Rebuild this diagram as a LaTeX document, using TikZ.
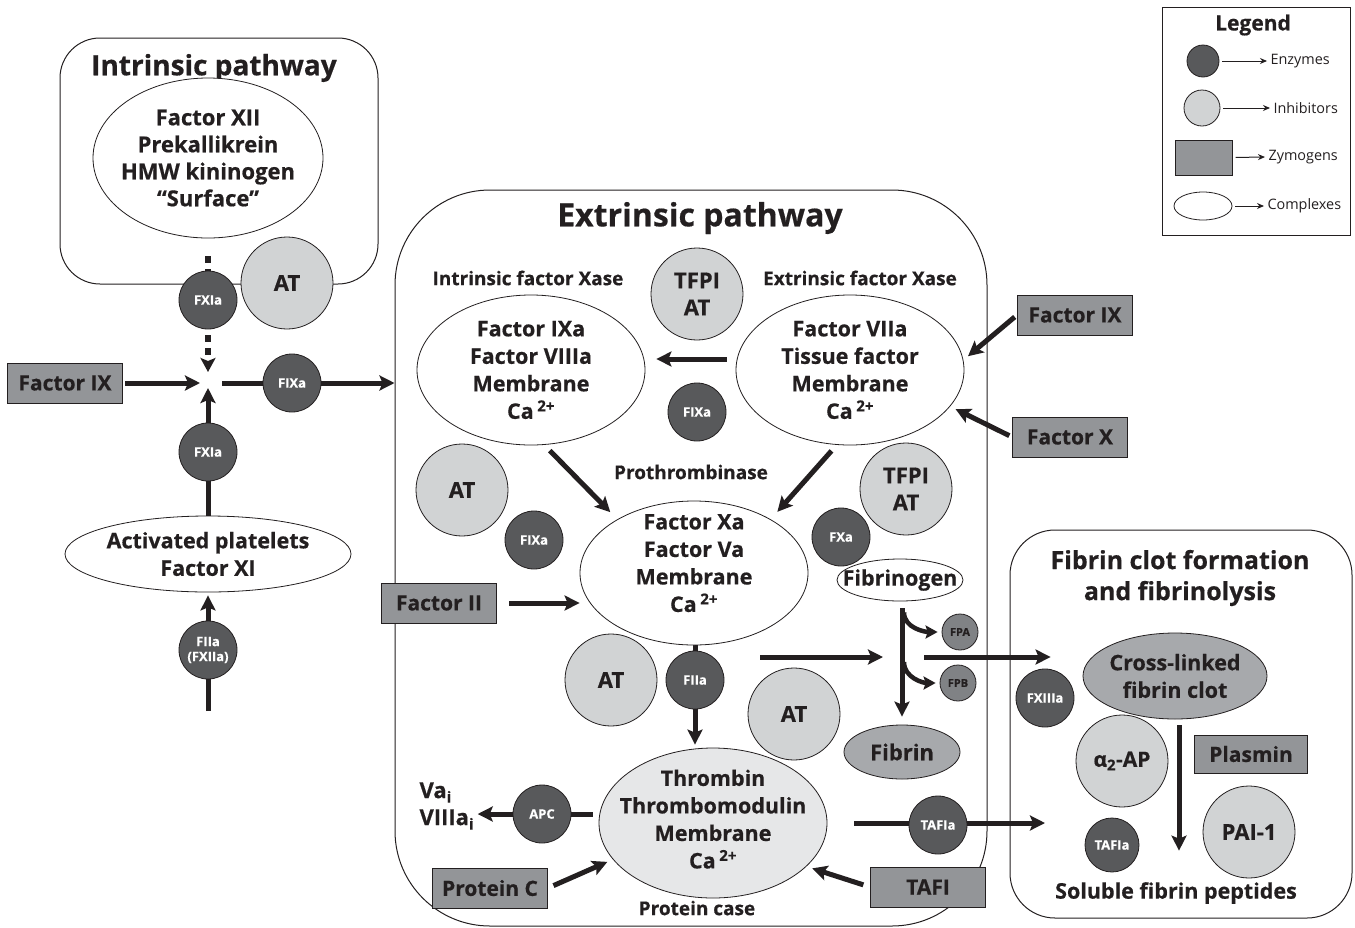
\documentclass[tikz,border=0pt]{standalone}
\usepackage{fontspec}
\setmainfont{Open Sans}[BoldFeatures={FakeBold=0.5}]
\usetikzlibrary{arrows.meta, shapes.geometric, positioning, calc, backgrounds}
\definecolor{ink}{HTML}{231F20}
\definecolor{enzgray}{HTML}{58595B}
\definecolor{inhgray}{HTML}{D1D3D4}
\definecolor{zymgray}{HTML}{939598}
\definecolor{fibgray}{HTML}{A7A9AC}
\definecolor{thrgray}{HTML}{E6E7E8}
\definecolor{fpgray}{HTML}{808285}
\newcommand{\figfs}[2]{\fontsize{#1}{#2}\selectfont\bfseries}
\tikzset{
  enz/.style={circle, draw=ink, line width=0.8pt, fill=enzgray, text=white,
    minimum size=58pt, inner sep=0pt, font=\figfs{13}{15}, align=center},
  inh/.style={circle, draw=ink, line width=0.8pt, fill=inhgray,
    minimum size=92pt, inner sep=0pt, font=\figfs{22}{27}, align=center},
  zym/.style={rectangle, draw=ink, line width=1pt, fill=zymgray,
    minimum width=115pt, minimum height=40pt, inner sep=0pt, font=\figfs{21}{26}},
  cpx/.style={ellipse, draw=ink, line width=0.8pt, fill=white,
    inner sep=-15pt, font=\figfs{21.5}{27.5}, align=center},
  fpep/.style={enz, fill=fpgray, text=ink, minimum size=36pt, font=\figfs{11}{13}},
  pbox/.style={rectangle, draw=ink, line width=1pt, rounded corners=#1},
  sublbl/.style={font=\figfs{19}{22}},
  arr/.style={draw=ink, line width=5pt, -{Stealth[length=15pt, width=15pt, inset=3pt]}},
  carr/.style={draw=ink, line width=4.5pt, -{Stealth[length=12pt, width=13pt, inset=2pt]}},
  dotln/.style={draw=ink, line width=6pt, dash pattern=on 7pt off 6pt},
  dotarr/.style={dotln, -{Stealth[length=14pt, width=15pt, inset=3pt]}},
  legarr/.style={draw=ink, line width=1pt, -{Stealth[length=7pt, width=6pt]}},
  legtxt/.style={anchor=west, font=\fontsize{14.4}{16}\selectfont},
}
\begin{document}
\begin{tikzpicture}[x=1pt, y=-1pt, every node/.style={text=ink}]
  \useasboundingbox (0,0) rectangle (1355,927);

  % -- section frames --
  \node[pbox=40pt, minimum width=318pt, minimum height=246pt] (intbox) at (219,161) {};
  \node[pbox=95pt, minimum width=592pt, minimum height=736pt] (extbox) at (691,558) {};
  \node[pbox=45pt, minimum width=342pt, minimum height=388pt] (clotbox) at (1181,724) {};
  \node[draw=ink, line width=1pt, minimum width=188pt, minimum height=228pt] (legbox) at (1256.5,121) {};

  \node[font=\figfs{28}{32}] (intttl) at (214,68) {Intrinsic pathway};
  \node[font=\figfs{32}{38}] (extttl) at (700,218) {Extrinsic pathway};
  \node[font=\figfs{25}{31}, align=center] (clotttl) at (1180,578) {Fibrin clot formation\\and fibrinolysis};
  \node[font=\figfs{21}{24}] (legttl) at (1253,25) {Legend};

  % -- intrinsic pathway --
  \node[cpx, minimum width=230pt, minimum height=160pt, font=\figfs{22}{27}] (contact) at (208,158)
       {Factor XII\\Prekallikrein\\HMW kininogen\\“Surface”};
  \node[inh] (atI) at (287,283) {AT};
  \node[enz] (fxiaU) at (208,300) {FXIa};
  \coordinate (cross) at (208,383);
  \node[zym] (fixL) at (65,383) {Factor IX};
  \node[enz] (fixaI) at (292,383) {FIXa};
  \node[enz] (fxiaD) at (208,452) {FXIa};
  \node[cpx, minimum width=286pt, minimum height=76pt] (plat) at (208,554)
       {Activated platelets\\Factor XI};
  \node[enz] (fiiaI) at (208,650) {FIIa\\(FXIIa)};
  \coordinate (fiiaS) at (208,711);

  % -- extrinsic pathway --
  \node[sublbl] (ixlbl) at (528,278) {Intrinsic factor Xase};
  \node[sublbl] (exlbl) at (860,278) {Extrinsic factor Xase};
  \node[inh] (tfpiU) at (697,294) {TFPI\\AT};
  \node[cpx, minimum width=228pt, minimum height=150pt] (ixase) at (531,370)
       {Factor IXa\\Factor VIIIa\\Membrane\\Ca\,\textsuperscript{2+}};
  \node[cpx, minimum width=228pt, minimum height=150pt] (exase) at (850,370)
       {Factor VIIa\\Tissue factor\\Membrane\\Ca\,\textsuperscript{2+}};
  \node[enz] (fixaE) at (697,412) {FIXa};
  \node[sublbl] (ptlbl) at (691,472) {Prothrombinase};
  \node[inh] (atL) at (462,490) {AT};
  \node[enz] (fixaP) at (534,540) {FIXa};
  \node[cpx, minimum width=228pt, minimum height=144pt, text depth=20pt] (proth) at (694,573)
       {Factor Xa\\Factor Va\\Membrane\\Ca\,\textsuperscript{2+}};
  \node[inh] (tfpiL) at (906,489) {TFPI\\AT};
  \node[enz] (fxaE) at (841,537) {FXa};
  \node[cpx, minimum width=126pt, minimum height=42pt] (fbgn) at (900,580) {Fibrinogen};
  \node[zym] (fii) at (439,603) {Factor II};
  \node[inh] (atM) at (611,680) {AT};
  \node[enz] (fiiaE) at (695,680) {FIIa};
  \node[inh] (atR) at (794,714) {AT};
  \node[fpep] (fpa) at (960,632) {FPA};
  \node[fpep] (fpb) at (958,683) {FPB};
  \node[cpx, fill=fibgray, minimum width=116pt, minimum height=54pt, font=\figfs{22}{26}] (fibrin) at (902,752) {Fibrin};
  \node[cpx, fill=thrgray, minimum width=228pt, minimum height=150pt, text depth=8pt] (thr) at (713,823)
       {Thrombin\\Thrombomodulin\\Membrane\\Ca\,\textsuperscript{2+}};
  \node[sublbl] (pclbl) at (697,908) {Protein case};
  \node[enz] (apc) at (542,814) {APC};
  \node[font=\figfs{22}{27}, align=left, anchor=west] (vai) at (416,806)
       {Va\textsubscript{i}\\VIIIa\textsubscript{i}};
  \node[zym] (protc) at (490,888) {Protein C};
  \node[zym] (tafi) at (928,887) {TAFI};
  \node[enz] (tafiaE) at (938,825) {TAFIa};
  \coordinate (fibL) at (760,657);
  \coordinate (fibjoin) at (902,657);
  \coordinate (tafiEnd) at (1045,823);
  \node[zym] (fixR) at (1075,315) {Factor IX};
  \node[zym] (fxR) at (1070,437) {Factor X};

  % -- fibrin clot --
  \node[cpx, fill=fibgray, minimum width=184pt, minimum height=86pt] (xlink) at (1175,676)
       {Cross-linked\\fibrin clot};
  \node[enz] (fxiiia) at (1045,698) {FXIIIa};
  \node[inh, font=\figfs{21}{24}] (a2ap) at (1122,761) {α\textsubscript{2}-AP};
  \node[zym, minimum width=113pt, minimum height=38pt] (plasmin) at (1251,754) {Plasmin};
  \node[inh] (pai) at (1249,832) {PAI-1};
  \node[enz, minimum size=54pt] (tafiaC) at (1112,845) {TAFIa};
  \node[font=\figfs{21.5}{24}] (solub) at (1176,893) {Soluble fibrin peptides};

  % -- legend --
  \node[enz, minimum size=32pt] (lgenz) at (1203,61) {};
  \node[inh, minimum size=36pt] (lginh) at (1202,108) {};
  \node[zym, minimum width=57pt, minimum height=35pt] (lgzym) at (1203.5,157.5) {};
  \node[cpx, minimum width=58pt, minimum height=28pt] (lgcpx) at (1203,206) {};
  \node[legtxt] (lgenzt) at (1267,61) {Enzymes};
  \node[legtxt] (lginht) at (1270,108) {Inhibitors};
  \node[legtxt] (lgzymt) at (1265,157) {Zymogens};
  \node[legtxt] (lgcpxt) at (1264,206) {Complexes};

  \begin{scope}[on background layer]
    \draw[legarr, shorten <=3pt] (lgenz.east) -- (lgenzt.west);
    \draw[legarr, shorten <=3pt] (lginh.east) -- (lginht.west);
    \draw[legarr, shorten <=3pt] (lgzym.east) -- (lgzymt.west);
    \draw[legarr, shorten <=3pt] (lgcpx.east) -- (lgcpxt.west);

    % intrinsic arrows
    \draw[dotln, shorten <=18pt] (contact.south) -- (fxiaU.north);
    \draw[dotarr, shorten <=6pt, shorten >=11pt] (fxiaU.south) -- (cross);
    \draw[arr, shorten <=2pt, shorten >=8pt] (fixL.east) -- (cross);
    \draw[arr, shorten >=5pt] (plat.north) -- (cross);
    \draw[arr, shorten >=3pt] (fiiaS) -- (plat.south);
    \draw[arr, shorten <=14pt] (cross) -- (cross -| extbox.west);

    % extrinsic arrows
    \draw[arr, shorten <=9pt, shorten >=11pt] ([yshift=11pt]exase.west) -- ([yshift=11pt]ixase.east);
    \draw[arr, shorten <=8pt, shorten >=10pt] (ixase.-80) -- (proth.145);
    \draw[arr, shorten <=8pt, shorten >=10pt] (exase.-100) -- (proth.35);
    \draw[arr, shorten <=3pt, shorten >=6pt] (fixR.west) -- (exase.5);
    \draw[arr, shorten <=3pt, shorten >=6pt] (fxR.west) -- (exase.-20);
    \draw[arr, shorten <=12pt] (fii.east) -- (fii.east -| proth.west);
    \draw[arr, shorten >=3pt] (proth.south -| fiiaE) -- (thr.north -| fiiaE);
    \draw[arr, shorten <=6pt] (thr.west |- apc) -- (apc -| vai.east);
    \draw[arr, shorten <=6pt, shorten >=6pt] (protc.east) -- (thr.200);
    \draw[arr, shorten <=7pt, shorten >=6pt] (tafi.west) -- (thr.-25);
    \draw[arr, shorten <=27pt] (thr.east) -- (tafiEnd);

    % fibrin formation
    \draw[arr, shorten <=7pt, shorten >=8pt] (fbgn.south -| fibjoin) -- (fibrin.north -| fibjoin);
    \draw[carr, shorten >=4pt] ($(fbgn.south -| fibjoin)+(2,11)$) .. controls +(0,16) and +(-16,0) .. (fpa.west);
    \draw[carr, shorten >=4pt] ($(fibjoin)+(2,5)$) .. controls +(0,16) and +(-16,0) .. (fpb.west);
    \draw[arr, shorten >=19pt] (fibL) -- (fibjoin);
    \draw[arr, shorten <=22pt, shorten >=32pt] (fibjoin) -- (fibjoin -| xlink.west);
    \draw[arr, shorten <=6pt, shorten >=28pt] ([xshift=4pt]xlink.south) -- ([xshift=4pt]xlink.south |- solub.north);
  \end{scope}
\end{tikzpicture}
\end{document}
